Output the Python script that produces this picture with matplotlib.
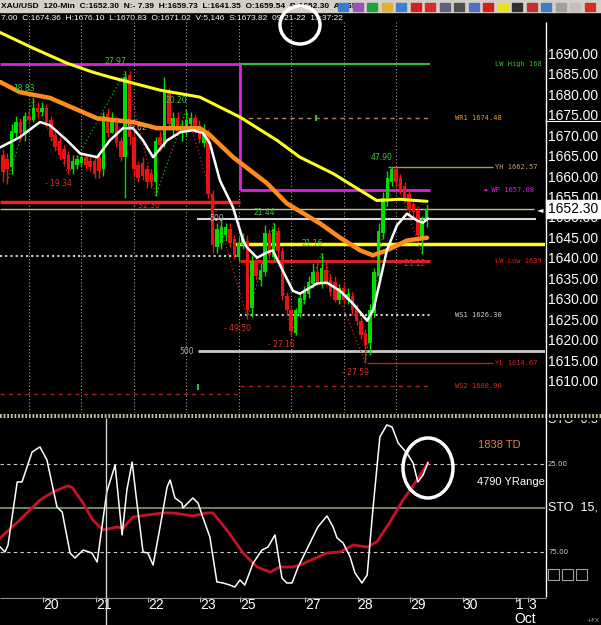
import matplotlib.pyplot as plt
from matplotlib.patches import Ellipse, Rectangle
from matplotlib.transforms import blended_transform_factory as blend

W, H = 601, 625
PX_BAR = 4.369   # pixels per 120-min bar
X0 = 2.8         # pixel x of bar 0

# ---- XAU/USD 120-min candles (Sep 19 .. Sep 29) ----
opens = [1665.5, 1664.5, 1662.5, 1671, 1673.5, 1670.5, 1675, 1674, 1677, 1676,
         1677, 1674, 1670.5, 1669, 1667, 1665.5, 1662, 1663, 1663.5, 1665,
         1664, 1664, 1665, 1662, 1675.5, 1671.02, 1674, 1669, 1665, 1685,
         1670, 1663, 1663.5, 1662, 1661, 1659, 1670, 1668.5, 1681, 1672,
         1674.5, 1671, 1672, 1673, 1674.5, 1672.5, 1668.5, 1671, 1656, 1643,
         1644, 1646, 1647.5, 1645, 1640.5, 1643.5, 1644.5, 1628, 1639.5, 1635,
         1637, 1646.5, 1640.5, 1647, 1642, 1631, 1627.5, 1622, 1627, 1630,
         1631.5, 1634, 1637, 1634, 1637.5, 1635, 1634.5, 1630, 1633, 1630,
         1631, 1628, 1625, 1622, 1619.5, 1627, 1636, 1646.5, 1655, 1659,
         1662, 1660, 1658, 1656, 1653.5, 1652, 1645.5, 1649.5]
highs = [1667, 1666, 1673, 1675, 1674.5, 1676, 1676.5, 1679.5, 1678.5, 1678.5,
         1678, 1675, 1671.5, 1670, 1668, 1666.5, 1665.5, 1665.5, 1666, 1666,
         1665, 1665, 1666, 1676, 1677, 1676.10, 1675, 1670, 1686, 1686,
         1671, 1664, 1665, 1663, 1662, 1670, 1671.5, 1684.5, 1682, 1676,
         1676, 1674, 1676.5, 1676, 1675.5, 1674, 1673, 1672, 1657, 1649,
         1650, 1649, 1649, 1646, 1645.5, 1646.5, 1646, 1641, 1641, 1639,
         1648.5, 1647.5, 1649, 1648, 1643, 1632, 1628, 1628, 1632, 1633.5,
         1636, 1639, 1640, 1641.5, 1639.5, 1636.5, 1636, 1634, 1634, 1633,
         1632, 1629, 1626, 1623, 1629, 1638, 1649, 1656.5, 1661.5, 1662.57,
         1662.57, 1661, 1659, 1657, 1654.5, 1653, 1650.5, 1653.5]
lows = [1659, 1658.5, 1661, 1670, 1669, 1669, 1673, 1673.5, 1674.5, 1675,
        1672.5, 1669, 1666.5, 1664.5, 1663, 1661, 1661, 1662, 1662.5, 1662,
        1661.5, 1660, 1660, 1660.5, 1670, 1670.83, 1667.5, 1664, 1655, 1668,
        1660.5, 1659, 1659.5, 1657.5, 1657.5, 1655.5, 1666.5, 1667.5, 1672, 1670,
        1670.5, 1669, 1670.5, 1672, 1671, 1668.5, 1667.5, 1655, 1641.5, 1641.5,
        1642.5, 1644.5, 1643, 1640, 1639.5, 1642.5, 1625.5, 1626, 1635, 1633.5,
        1636, 1640, 1639.5, 1640, 1630, 1626.5, 1621.5, 1621.5, 1626, 1629,
        1630.5, 1633, 1633.5, 1633, 1633.5, 1631, 1629.5, 1629, 1629, 1629,
        1626.5, 1624, 1620.5, 1614.67, 1616.5, 1626, 1634, 1645, 1653, 1658,
        1657.5, 1656, 1654, 1651, 1650, 1644.5, 1641.35, 1648]
closes = [1661.3, 1662, 1671.5, 1673.5, 1671, 1675, 1674, 1677, 1676, 1677,
          1673.5, 1670, 1667.5, 1665.5, 1664.5, 1662, 1664, 1664.5, 1665, 1663,
          1662.5, 1661, 1661.5, 1675, 1671, 1674.36, 1668.5, 1665, 1684.5, 1670,
          1662, 1660, 1660.5, 1659, 1659, 1669, 1668, 1681, 1673, 1674.5,
          1671.5, 1672.5, 1674, 1674.5, 1672, 1669.5, 1671, 1656, 1643.5, 1647.5,
          1648, 1648, 1644, 1641, 1644, 1645, 1627.5, 1639.5, 1636, 1637.5,
          1646.5, 1641, 1647.5, 1642, 1631, 1627.5, 1622.5, 1627.5, 1630.5, 1632,
          1634.5, 1637, 1634, 1638, 1634.5, 1632, 1630, 1633, 1630, 1631.5,
          1627.5, 1625, 1621.5, 1619, 1627.5, 1637, 1647, 1655, 1660, 1662,
          1659, 1657, 1655, 1652, 1651.5, 1646, 1649.5, 1652.3]

# ---- moving averages (bar, price) ----
ma_slow_bar = [-0.6, 6.9, 14.7, 20.6, 24.5, 36.0, 45.1, 54.3, 62.8, 68.0, 75.6, 81.8, 85.6, 90.9, 97.1]
ma_slow = [1695.5, 1691.7, 1688.0, 1685.8, 1684.6, 1681.4, 1679.7, 1674.8, 1669.1, 1665.0,
           1661.0, 1656.9, 1654.4, 1654.7, 1654.2]
ma_mid_bar = [-0.6, 3.9, 10.8, 21.6, 29.8, 35.3, 45.1, 47.4, 52.7, 60.5, 65.0, 72.6, 77.2,
              81.8, 84.7, 87.9, 92.5, 97.1]
ma_mid = [1683.4, 1680.9, 1679.5, 1674.5, 1673.6, 1672.1, 1672.1, 1670.4, 1665.0, 1658.6,
          1653.7, 1648.8, 1645.3, 1642.2, 1641.0, 1642.2, 1644.6, 1645.3]
ma_fast_bar = [-0.6, 3.9, 8.5, 10.8, 14.7, 17.7, 21.6, 24.5, 27.5, 29.8, 32.1, 34.4, 37.6,
               40.6, 43.5, 45.8, 47.4, 49.7, 52.7, 55.0, 55.9, 58.2, 60.5, 61.8, 64.1,
               66.4, 68.0, 71.9, 74.2, 77.2, 80.2, 83.4, 84.9, 86.3, 87.9, 90.2, 92.5,
               94.8, 96.2, 97.3]
ma_fast = [1667.4, 1669.9, 1673.6, 1672.8, 1669.1, 1665.9, 1665.0, 1669.1, 1672.1, 1672.1,
           1669.1, 1665.0, 1669.1, 1671.1, 1671.6, 1670.9, 1668.4, 1659.3, 1652.7, 1644.6,
           1642.9, 1640.4, 1641.7, 1642.2, 1637.2, 1632.3, 1631.6, 1634.1, 1634.3, 1632.3,
           1629.1, 1625.0, 1628.0, 1634.5, 1642.2, 1648.3, 1651.2, 1649.5, 1649.0, 1650.0]

# ---- zigzag swings ----
zz_bar = [1, 7, 15, 28, 35, 42, 56, 62, 66, 73, 83, 89, 96]
zz_px = [1659, 1679.5, 1661, 1686, 1655.5, 1676.5, 1625.5, 1649, 1621.5, 1641.5,
         1614.67, 1662.57, 1641.35]
zz_txt = ["", "18.83", "- 19.34", "27.97", "- 32.30", "20.20", "- 49.50", "21.44",
          "- 27.16", "21.16", "- 27.59", "47.90", "- 21.12"]

# ---- pivot / range levels ----
lvl_price = [1687.8, 1687.8, 1674.48, 1662.57, 1657.08, 1654.0, 1652.3, 1650.0,
             1643.8, 1640.8, 1639.5, 1626.3, 1617.5, 1614.67, 1608.9, 1607.1]
lvl_from = [-0.7, 54.3, 54.3, 88.2, 54.3, -0.7, -0.7, 44.5, 53.0, -0.7, 54.3, 54.3, 44.7, 83.4, 54.3, -0.7]
lvl_to = [54.3, 97.8, 97.8, 112.3, 97.8, 54.3, 121.5, 122.0, 125, 54.3, 97.8, 97.8, 125, 112.3, 97.8, 54.3]
lvl_col = ["#e020e0", "#30c030", "#c08840", "#b09060", "#e020e0", "#ee2020", "#c8c090", "#d8d8d8",
           "#ffff00", "#d0d0d0", "#ee2020", "#d0d0d0", "#c8c8c8", "#c02020", "#b02020", "#a02020"]
lvl_lw = [2, 1.5, 1, 1, 2, 2.5, 1, 1.5, 2.5, 1.5, 2, 1.5, 2, 1, 1, 1]
lvl_ls = ["-", "-", (0, (3, 3)), "-", "-", "-", "-", "-", "-", (0, (1, 1.5)), "-",
          (0, (1, 1.5)), "-", "-", (0, (3, 3)), (0, (3, 3))]

lbl_txt = ["LW High 168", "WR1 1674.48", "YH 1662.57", "\u25c4 WP 1657.08", "LW Low 1639",
           "WS1 1626.30", "YL 1614.67", "WS2 1608.90"]
lbl_price = [1687.8, 1674.48, 1662.57, 1657.08, 1639.5, 1626.3, 1614.67, 1608.9]
lbl_bar = [112.7, 103.5, 112.7, 110.0, 112.7, 103.5, 112.7, 103.5]
lbl_col = ["#30c030", "#e09a40", "#c8a070", "#e020e0", "#e02020", "#d0d0d0", "#e02020", "#e02020"]

price_ticks = [1690, 1685, 1680, 1675, 1670, 1665, 1660, 1655, 1650, 1645, 1640, 1635,
               1630, 1625, 1620, 1615, 1610]

# ---- stochastic (inverted scale) ----
sto_k_bar = [-0.6, 0.5, 1.2, 3.3, 4.4, 6.7, 8.5, 10.1, 12.4, 13.6, 15.4, 16.5, 18.4, 20.4,
             21.6, 23.8, 25.7, 27.3, 28.4, 29.6, 30.7, 32.1, 33.2, 34.4, 36.0, 37.6, 38.3,
             39.4, 41.0, 41.2, 43.5, 44.7, 45.6, 47.4, 49.0, 50.4, 52.0, 53.1, 54.3, 55.4,
             57.3, 59.3, 60.7, 62.3, 63.9, 65.0, 66.2, 67.6, 70.3, 72.1, 74.2, 75.6, 76.5,
             77.9, 79.5, 80.6, 82.2, 83.4, 84.7, 86.3, 87.9, 89.1, 90.5, 92.5, 93.9, 95.0,
             96.2, 97.3]
sto_k = [72.2, 75, 71, 35.2, 35.2, 18.2, 15.3, 22.7, 49.4, 52.3, 75.6, 78.4, 73.9, 75.6,
         80.7, 40.9, 25.6, 65.3, 39.8, 23.9, 47.2, 75, 75.6, 82.4, 60.8, 38.1, 34.1, 44.3,
         47.2, 50, 44.3, 47.2, 54, 66.5, 92, 92.6, 93.8, 94.9, 90.9, 93.8, 81.3, 73.9, 72.2,
         65.3, 89.8, 92.6, 92.6, 83.5, 69.9, 60.8, 54.5, 60.8, 67, 69.9, 77.8, 86.9, 92.6,
         88.1, 51.1, 9.7, 2.8, 4, 13.1, 18.8, 24.4, 35.2, 31.2, 24.4]
sto_d_bar = [-0.6, 3.9, 8.5, 11.5, 14.7, 15.8, 18.4, 20.6, 22.9, 26.1, 27.5, 29.8, 33.0,
             36.7, 39.0, 43.5, 46.7, 48.1, 51.3, 55.0, 58.2, 61.2, 63.4, 66.4, 68.0, 74.2,
             77.2, 80.2, 83.4, 85.6, 88.6, 91.6, 94.8, 97.3]
sto_d = [67, 56.8, 45.5, 40.9, 37.5, 38.1, 47.2, 56.8, 62.5, 60.8, 61.4, 55.1, 54, 52.8,
         52.8, 54.5, 52.8, 52.8, 62.5, 75.6, 83.5, 86.4, 83.5, 83.5, 82.4, 75.6, 75, 71,
         72.2, 69.3, 58, 45.5, 34.1, 24.4]

date_lbl = ["20", "21", "22", "23", "25", "27", "28", "29", "30", "1", "3"]
date_pos = [9.2, 21.4, 33.3, 45.2, 54.3, 69.2, 81.2, 93.2, 105.3, 117.4, 120.2]

header1 = "XAU/USD  120-Min  C:1652.30  N:- 7.39  H:1659.73  L:1641.35  O:1659.54  B:1652.30  A:1652"
header2 = "7.00  C:1674.36  H:1676.10  L:1670.83  O:1671.02  V:5,146  S:1673.82  09-21-22  13:37:22"

SANS = "Liberation Sans"


def frac(x0, y0, x1, y1):
    return [x0 / W, 1 - y1 / H, (x1 - x0) / W, (y1 - y0) / H]


fig = plt.figure(figsize=(6.01, 6.25), dpi=100, facecolor="black")

bg = fig.add_axes([0, 0, 1, 1], zorder=0)
bg.set_xlim(0, W)
bg.set_ylim(H, 0)
bg.axis("off")

ax = fig.add_axes(frac(0, 22, 545, 413), zorder=1, facecolor="black")
sto = fig.add_axes(frac(0, 418, 545, 597), zorder=1, facecolor="black")
top = fig.add_axes([0, 0, 1, 1], zorder=5)
top.set_xlim(0, W)
top.set_ylim(H, 0)
top.axis("off")
top.patch.set_alpha(0)

xl = (-X0 / PX_BAR, (545 - X0) / PX_BAR)
for a in (ax, sto):
    a.set_xlim(*xl)
    a.set_xticks([])
    a.set_yticks([])
    for s in a.spines.values():
        s.set_visible(False)

# ---------------- price panel ----------------
ax.set_ylim(1690 - (413 - 55) / 4.0875, 1690 + (55 - 22) / 4.0875)

for g in range(6, 96, 12):
    ax.axvline(g, color="#a0a0a0", lw=0.8, ls=(0, (1, 2)), zorder=1)

ax.hlines(lvl_price, lvl_from, lvl_to, colors=lvl_col, linewidths=lvl_lw,
          linestyles=lvl_ls, zorder=2)
ax.vlines(54.3, lvl_price[4], lvl_price[0], colors="#e020e0", lw=2, zorder=2)
ax.vlines([71.7, 44.7], [1673.8, 1608.0], [1675.2, 1609.6], colors="#30c030", lw=1.5, zorder=2)

for t, b, p, c in zip(lbl_txt, lbl_bar, lbl_price, lbl_col):
    ax.text(b, p, t, color=c, fontsize=5, family="DejaVu Sans Mono", va="center", zorder=6)

for t, b, p in [("500", 49.0, 1650.0), ("500", 42.0, 1617.5), ("16.62", 30.5, 1672.3)]:
    ax.text(b, p, t, color="#b0b0b0", fontsize=5.5, ha="center", va="center", zorder=6)

# zigzag swing legs and their labels
for k in range(len(zz_bar) - 1):
    c = "#28a828" if zz_px[k + 1] > zz_px[k] else "#c02828"
    ax.plot(zz_bar[k:k + 2], zz_px[k:k + 2], color=c, lw=0.9, ls=(0, (1, 2)), zorder=2)
for k, t in enumerate(zz_txt):
    if not t:
        continue
    hi = k > 0 and zz_px[k] > zz_px[k - 1]
    ax.annotate(t, (zz_bar[k], zz_px[k]), xytext=(-7, 7 if hi else -7),
                textcoords="offset points", ha="center", va="center", fontsize=5.5,
                color="#40c840" if hi else "#d83030", zorder=6)

# candles
idx = list(range(len(closes)))
col = ["#00dd00" if c >= o else "#ee1111" for o, c in zip(opens, closes)]
ax.vlines(idx, lows, highs, colors=col, lw=1, zorder=3)
ax.bar(idx, [max(abs(c - o), 0.35) for o, c in zip(opens, closes)],
       bottom=[min(o, c) for o, c in zip(opens, closes)], width=0.8,
       color=col, linewidth=0, zorder=3)

ax.plot(ma_slow_bar, ma_slow, color="#ffff20", lw=2.2, zorder=4, solid_capstyle="round")
ax.plot(ma_mid_bar, ma_mid, color="#ff8c1a", lw=3.2, zorder=4, solid_capstyle="round")
ax.plot(ma_fast_bar, ma_fast, color="white", lw=1.8, zorder=4, solid_capstyle="round")

# right price scale
tr = blend(ax.transAxes, ax.transData)
for p in price_ticks:
    ax.text(1 + 3 / 545, p, f"{p:.2f}", transform=tr, color="white", fontsize=10,
            family=SANS, va="center", ha="left", clip_on=False)
ax.text(1 + 3 / 545, closes[-1], f"{closes[-1]:.2f}", transform=tr, color="black",
        fontsize=10, family=SANS, va="center", ha="left", clip_on=False, zorder=7,
        bbox=dict(boxstyle="square,pad=0.12", fc="white", ec="white"))
ax.text(1 - 2 / 545, closes[-1], "\u25c4", transform=tr, color="white", fontsize=6,
        va="center", ha="right", clip_on=False)

# ---------------- stochastic panel ----------------
sto.set_ylim(75 + (597 - 552) / 1.76, 25 - (464 - 418) / 1.76)
sto.axhline(25, color="#d0d0d0", lw=0.8, ls=(0, (3, 3)))
sto.axhline(75, color="#d0d0d0", lw=0.8, ls=(0, (3, 3)))
sto.axhline(50, color="#8a9a70", lw=1.2)
sto.plot(sto_d_bar, sto_d, color="#c8102a", lw=2, zorder=3)
sto.plot(sto_k_bar, sto_k, color="white", lw=1.1, zorder=4)

trs = blend(sto.transAxes, sto.transData)
sto.text(1 + 3 / 545, 25, "25.00", transform=trs, color="#d0d0d0", fontsize=5,
         va="center", clip_on=False)
sto.text(1 + 3 / 545, 75, "75.00", transform=trs, color="#d0d0d0", fontsize=5,
         va="center", clip_on=False)
sto.text(1 + 3 / 545, 50, "STO  15,", transform=trs, color="white", fontsize=9,
         family=SANS, va="center", clip_on=False)
sto.text(0.877, 0.85, "1838 TD", transform=sto.transAxes, color="#e8823a", fontsize=8,
         family=SANS, va="center")
sto.text(0.875, 0.645, "4790 YRange", transform=sto.transAxes, color="white", fontsize=8,
         family=SANS, va="center")

trd = blend(sto.transData, sto.transAxes)
sto.vlines(date_pos, -0.03, 0, colors="#c0c0c0", lw=0.8, transform=trd, clip_on=False)
for d, x in zip(date_lbl, date_pos):
    sto.text(x, -0.045, d, transform=trd, color="white", fontsize=10, family=SANS,
             ha="left", va="center", clip_on=False)
sto.text(date_pos[-2] - 0.3, -0.125, "Oct", transform=trd, color="white", fontsize=10,
         family=SANS, ha="left", va="center", clip_on=False)

# ---------------- frame, header, decorations ----------------
bg.add_patch(Rectangle((0, 0), W, 12, color="#d4d0c8", zorder=1))
bg.text(1, 6.5, header1, color="black", fontsize=6, fontweight="bold", family=SANS,
        va="center", zorder=2)
bg.text(1, 17.5, header2, color="white", fontsize=6, family=SANS, va="center", zorder=2)
icon_cols = ["#3a7ad0", "#9a50c0", "#20a040", "#e0b030", "#4080d0", "#d02020", "#d03030",
             "#606080", "#505050", "#5070c0", "#d02020", "#e8e020", "#303030", "#c03030",
             "#4080c0", "#a0a0a0", "#c0c0c0", "#d03020"]
for k, c in enumerate(icon_cols):
    bg.add_patch(Rectangle((338 + k * 14.5, 2.5), 10, 8, color=c, zorder=2))

bg.text(548, 420, "STO  0.3", color="white", fontsize=9, family=SANS, va="center", zorder=1)
bg.add_patch(Rectangle((0, 413), 601, 5.5, color="black", zorder=2))
bg.hlines([414.5, 417.3], 0, 601, colors="#c8d8b0", lw=1.3, linestyles=(0, (1, 1)), zorder=3)
for k in range(3):
    bg.add_patch(Rectangle((548 + k * 14, 569), 11, 11, fill=False, ec="#a0a0a0", lw=0.8, zorder=2))
bg.text(599, 621, "+FX", color="#a0a0a0", fontsize=4.5, ha="right", va="center", zorder=2)

top.vlines(545.5, 22, 597, colors="white", lw=1)
top.hlines(597.5, 0, 545.5, colors="#909090", lw=0.8)
top.hlines(120.5, 545, 601, colors="white", lw=0.8)
top.vlines(106, 418, 625, colors="#d0d0d0", lw=1)
top.add_patch(Ellipse((300, 25), 40, 38, fill=False, ec="white", lw=2.5))
top.add_patch(Ellipse((428, 468), 50, 60, fill=False, ec="white", lw=2.5))

fig.savefig("out.png", dpi=100, facecolor="black")
